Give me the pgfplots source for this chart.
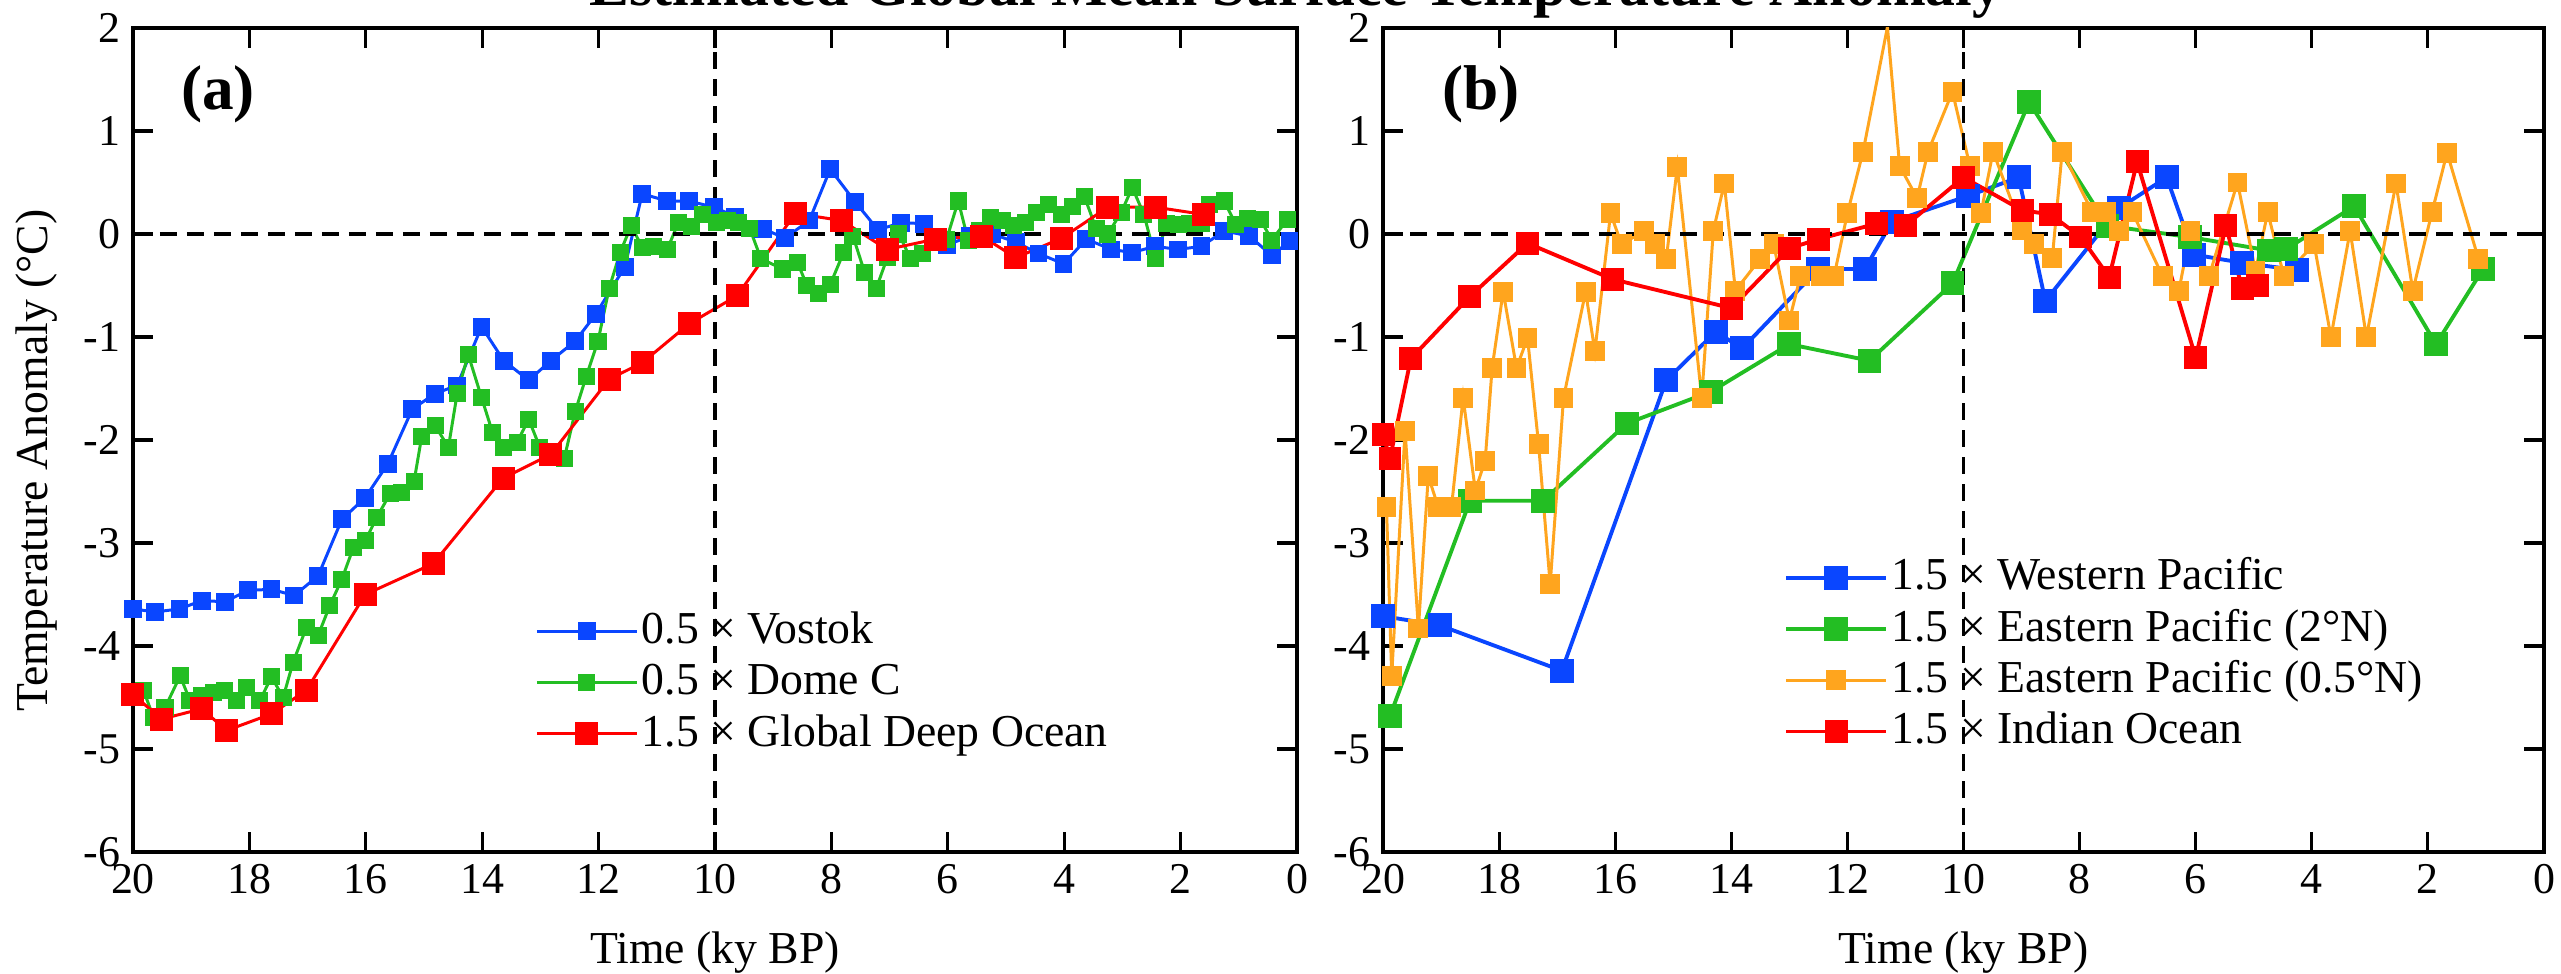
\documentclass[border=0pt]{standalone}
\usepackage{fontspec}
\setmainfont{Liberation Serif}
\usepackage{pgfplots}
\pgfplotsset{compat=1.18}

\definecolor{cblue}{RGB}{10,70,255}
\definecolor{cgreen}{RGB}{35,190,35}
\definecolor{corange}{RGB}{255,165,30}
\definecolor{cred}{RGB}{255,0,0}

\pgfplotsset{
 panel/.style={
  scale only axis, height=8.24cm,
  x dir=reverse, xmin=0, xmax=20, ymin=-6, ymax=2,
  xtick={0,2,...,20}, ytick={-6,-5,...,2},
  tick align=inside, major tick length=0.2cm,
  axis line style={line width=1.3pt},
  major tick style={black, line width=0.9pt},
  tick label style={font=\fontsize{12.5}{15}\selectfont},
  /pgf/number format/assume math mode=true,
  xlabel={Time (ky BP)},
  xlabel style={at={(axis description cs:0.5,0)}, anchor=base, yshift=-1.12cm, font=\fontsize{13}{15}\selectfont},
  legend style={draw=none, fill=none, font=\fontsize{13}{15}\selectfont, anchor=north west, inner sep=0pt, row sep=0pt,
     nodes={inner sep=1pt, text height=9.8pt, text depth=2.8pt}},
  legend cell align=left,
  legend image code/.code={\draw[mark repeat=2,mark phase=2,##1] plot coordinates {(0cm,0cm) (0.5cm,0cm) (1cm,0cm)};},
 },
 refline/.style={forget plot, black, line width=0.9pt, dash pattern=on 0.17cm off 0.1cm},
}

\begin{document}
\begin{tikzpicture}[x=1cm,y=1cm]
\node[anchor=base, font=\bfseries\fontsize{17}{20}\selectfont] at (12.96,9.68) {Estimated Global Mean Surface Temperature Anomaly};

\begin{axis}[panel, width=11.64cm, at={(1.33cm,1.22cm)}, anchor=south west,
  ylabel={Temperature Anomaly (°C)},
  ylabel style={at={(axis description cs:-0.0825,0.475)}, anchor=center, font=\fontsize{13}{15}\selectfont},
  legend style={at={(0.345,0.30)}}]
\addplot[cblue, line width=0.85pt, mark=square*, mark size=2.1pt, mark options={solid}] table {
20.0 -3.64
19.62 -3.67
19.2 -3.64
18.82 -3.56
18.42 -3.57
18.02 -3.46
17.62 -3.45
17.23 -3.51
16.82 -3.32
16.41 -2.77
16.01 -2.56
15.62 -2.23
15.2 -1.70
14.81 -1.55
14.43 -1.47
14.01 -0.90
13.63 -1.23
13.2 -1.42
12.82 -1.23
12.40 -1.04
12.05 -0.78
11.55 -0.32
11.25 0.39
10.82 0.32
10.45 0.32
10.02 0.26
9.65 0.17
9.17 0.05
8.8 -0.04
8.38 0.13
8.02 0.63
7.59 0.31
7.2 0.04
6.8 0.11
6.41 0.10
6.02 -0.11
5.62 -0.02
5.23 0.0
4.83 -0.08
4.44 -0.19
4.01 -0.29
3.62 -0.05
3.19 -0.15
2.83 -0.18
2.44 -0.12
2.04 -0.15
1.64 -0.12
1.25 0.03
0.82 -0.02
0.43 -0.21
0.13 -0.07
};
\addlegendentry{0.5 × Vostok}
\addplot[cgreen, line width=0.85pt, mark=square*, mark size=2.0pt, mark options={solid}] table {
20.0 -4.45
19.82 -4.43
19.65 -4.69
19.45 -4.60
19.19 -4.29
19.02 -4.53
18.82 -4.48
18.62 -4.45
18.42 -4.43
18.22 -4.53
18.05 -4.40
17.82 -4.53
17.62 -4.30
17.42 -4.50
17.25 -4.16
17.02 -3.82
16.82 -3.90
16.62 -3.61
16.41 -3.35
16.21 -3.04
16.01 -2.98
15.81 -2.75
15.58 -2.52
15.38 -2.51
15.17 -2.40
15.04 -1.97
14.81 -1.86
14.58 -2.07
14.43 -1.55
14.24 -1.17
14.01 -1.59
13.82 -1.93
13.63 -2.07
13.40 -2.02
13.20 -1.80
13.01 -2.07
12.82 -2.11
12.59 -2.18
12.40 -1.72
12.21 -1.38
12.01 -1.04
11.82 -0.53
11.63 -0.18
11.44 0.08
11.25 -0.13
11.06 -0.12
10.82 -0.15
10.63 0.11
10.40 0.07
10.21 0.19
9.98 0.11
9.79 0.13
9.60 0.11
9.40 0.05
9.21 -0.24
8.84 -0.34
8.58 -0.28
8.42 -0.50
8.22 -0.58
8.02 -0.49
7.79 -0.18
7.63 -0.02
7.43 -0.37
7.23 -0.53
7.04 -0.23
6.84 0.0
6.64 -0.24
6.44 -0.19
6.21 -0.02
6.02 -0.05
5.82 0.32
5.65 -0.06
5.45 0.03
5.26 0.16
5.06 0.13
4.87 0.08
4.67 0.11
4.47 0.21
4.27 0.29
4.04 0.19
3.85 0.27
3.65 0.36
3.45 0.05
3.25 0.0
3.02 0.21
2.83 0.45
2.63 0.19
2.43 -0.24
2.24 0.10
2.04 0.09
1.84 0.10
1.64 0.10
1.51 0.29
1.25 0.32
1.05 0.09
0.85 0.15
0.63 0.14
0.43 -0.06
0.17 0.14
};
\addlegendentry{0.5 × Dome C}
\addplot[cred, line width=0.85pt, mark=square*, mark size=2.85pt, mark options={solid}] table {
20.0 -4.47
19.51 -4.71
18.82 -4.61
18.39 -4.82
17.62 -4.66
17.02 -4.43
16.01 -3.50
14.84 -3.20
13.64 -2.37
12.82 -2.14
11.82 -1.41
11.25 -1.25
10.44 -0.87
9.62 -0.60
8.62 0.20
7.82 0.13
7.04 -0.15
6.21 -0.05
5.42 -0.02
4.83 -0.23
4.04 -0.04
3.25 0.26
2.43 0.26
1.61 0.19
};
\addlegendentry{1.5 × Global Deep Ocean}
\addplot[refline] coordinates {(20,0) (0,0)};
\addplot[refline] coordinates {(10,-6) (10,2)};
\end{axis}
\node[font=\bfseries\fontsize{18}{21}\selectfont] at (2.18,8.80) {(a)};

\begin{axis}[panel, width=11.61cm, at={(13.83cm,1.22cm)}, anchor=south west,
  legend style={at={(0.345,0.365)}}]
\addplot[cblue, line width=1.1pt, mark=square*, mark size=2.85pt, mark options={solid}] table {
20.0 -3.71
19.02 -3.80
16.92 -4.24
15.12 -1.42
14.27 -0.95
13.81 -1.11
12.50 -0.34
11.70 -0.34
11.23 0.12
9.92 0.37
9.05 0.55
8.59 -0.65
7.32 0.25
6.50 0.55
6.03 -0.20
5.2 -0.28
4.25 -0.35
};
\addlegendentry{1.5 × Western Pacific}
\addplot[cgreen, line width=1.1pt, mark=square*, mark size=2.85pt, mark options={solid}] table {
19.88 -4.68
18.50 -2.59
17.24 -2.59
15.80 -1.84
14.35 -1.53
13.00 -1.07
11.62 -1.23
10.19 -0.48
8.87 1.28
7.52 0.08
6.10 -0.03
4.74 -0.16
4.45 -0.15
3.27 0.27
1.86 -1.07
1.05 -0.34
};
\addlegendentry{1.5 × Eastern Pacific (2°N)}
\addplot[corange, line width=0.85pt, mark=square*, mark size=2.4pt, mark options={solid}] table {
19.94 -2.65
19.85 -4.29
19.62 -1.91
19.39 -3.83
19.22 -2.35
19.05 -2.65
18.82 -2.65
18.62 -1.59
18.41 -2.49
18.24 -2.20
18.12 -1.30
17.93 -0.56
17.70 -1.30
17.51 -1.01
17.32 -2.04
17.12 -3.40
16.89 -1.59
16.51 -0.56
16.35 -1.14
16.08 0.20
15.89 -0.10
15.50 0.03
15.31 -0.10
15.12 -0.24
14.93 0.65
14.51 -1.59
14.31 0.03
14.12 0.49
13.93 -0.55
13.50 -0.24
13.27 -0.10
13.00 -0.84
12.81 -0.41
12.46 -0.41
12.23 -0.41
12.00 0.20
11.73 0.80
11.31 2.01
11.10 0.66
10.80 0.35
10.61 0.80
10.19 1.38
9.89 0.66
9.70 0.20
9.49 0.80
8.99 0.04
8.79 -0.10
8.47 -0.23
8.30 0.80
7.78 0.21
7.55 0.21
7.32 0.03
7.09 0.21
6.57 -0.41
6.29 -0.55
6.09 0.03
5.77 -0.41
5.28 0.50
4.97 -0.36
4.76 0.21
4.48 -0.41
3.96 -0.10
3.67 -1.00
3.34 0.03
3.06 -1.00
2.55 0.49
2.26 -0.55
1.93 0.21
1.67 0.79
1.13 -0.24
};
\addlegendentry{1.5 × Eastern Pacific (0.5°N)}
\addplot[cred, line width=1.1pt, mark=square*, mark size=2.7pt, mark options={solid}] table {
20.0 -1.95
19.88 -2.18
19.52 -1.21
18.51 -0.61
17.51 -0.09
16.04 -0.44
14.00 -0.72
13.00 -0.14
12.50 -0.05
11.50 0.10
11.00 0.08
10.00 0.55
8.99 0.23
8.50 0.19
7.98 -0.03
7.49 -0.42
7.01 0.70
6.00 -1.20
5.48 0.08
5.20 -0.53
4.94 -0.50
};
\addlegendentry{1.5 × Indian Ocean}
\addplot[refline] coordinates {(20,0) (0,0)};
\addplot[refline] coordinates {(10,-6) (10,2)};
\end{axis}
\node[font=\bfseries\fontsize{18}{21}\selectfont] at (14.81,8.80) {(b)};

\pgfresetboundingbox
\useasboundingbox (0,0) rectangle (25.61,9.74);
\end{tikzpicture}
\end{document}
